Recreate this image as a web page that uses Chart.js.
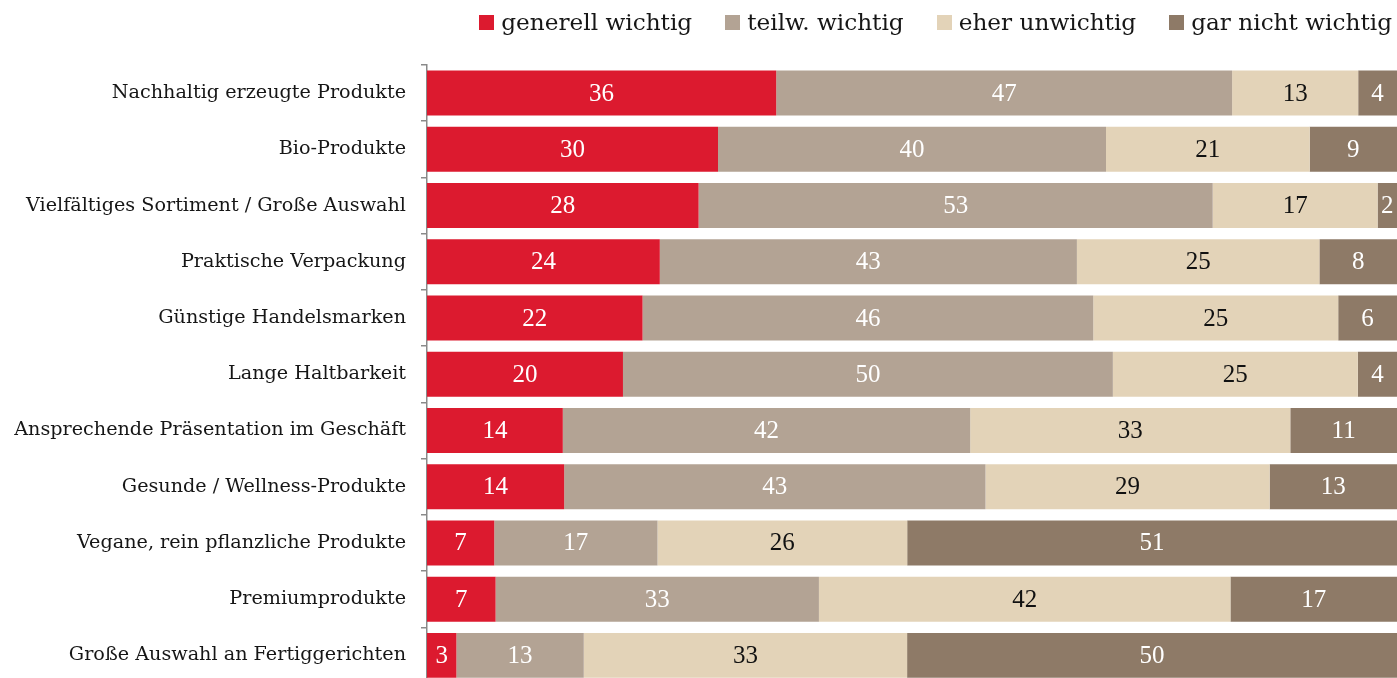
<!DOCTYPE html>
<html>
<head>
<meta charset="utf-8">
<script src="https://cdn.jsdelivr.net/npm/chart.js@4.4.1/dist/chart.umd.min.js"></script>
<style>
  html, body { margin: 0; padding: 0; background: #fff; overflow: hidden; }
  #wrap { position: relative; width: 1397px; height: 710px; }
  #legend {
    position: absolute; top: 9px; right: 5px; height: 26px;
    display: flex; align-items: center;
    font-family: 'DejaVu Serif', serif; font-size: 23.2px; color: #161616;
  }
  #legend .item { display: flex; align-items: center; margin-left: 33px; line-height: 26px; white-space: nowrap; }
  #legend .box { width: 15px; height: 15px; margin-right: 7px; }
</style>
</head>
<body>
<div id="wrap">
  <canvas id="chart"></canvas>
  <div id="legend"></div>
</div>
<script>
const categories = [
    'Nachhaltig erzeugte Produkte',
    'Bio-Produkte',
    'Vielfältiges Sortiment / Große Auswahl',
    'Praktische Verpackung',
    'Günstige Handelsmarken',
    'Lange Haltbarkeit',
    'Ansprechende Präsentation im Geschäft',
    'Gesunde / Wellness-Produkte',
    'Vegane, rein pflanzliche Produkte',
    'Premiumprodukte',
    'Große Auswahl an Fertiggerichten'
];

const generellWichtig = [36, 30, 28, 24, 22, 20, 14, 14, 7, 7, 3];
const teilwWichtig    = [47, 40, 53, 43, 46, 50, 42, 43, 17, 33, 13];
const eherUnwichtig   = [13, 21, 17, 25, 25, 25, 33, 29, 26, 42, 33];
const garNichtWichtig = [4, 9, 2, 8, 6, 4, 11, 13, 51, 17, 50];

const seriesNames  = ['generell wichtig', 'teilw. wichtig', 'eher unwichtig', 'gar nicht wichtig'];
const seriesValues = [generellWichtig, teilwWichtig, eherUnwichtig, garNichtWichtig];
const seriesColors = ['#DC1A2F', '#B3A394', '#E3D3B8', '#8E7A67'];
const labelColors  = ['#ffffff', '#ffffff', '#111111', '#ffffff'];

const LABEL_FONT = "'DejaVu Serif', serif";
const NUM_FONT = "'Liberation Serif', serif";

// each row is drawn as share of its own total (rows sum to 99..101)
const rowTotals = categories.map((c, i) => seriesValues.reduce((s, arr) => s + arr[i], 0));

const datasets = seriesValues.map((vals, k) => ({
    label: seriesNames[k],
    data: vals.map((v, i) => v / rowTotals[i] * 100),
    raw: vals,
    backgroundColor: seriesColors[k],
    borderWidth: 0,
    barPercentage: 0.8,
    categoryPercentage: 1.0
}));

// numbers inside the segments
const segmentLabels = {
    id: 'segmentLabels',
    afterDatasetsDraw(chart) {
        const ctx = chart.ctx;
        ctx.save();
        ctx.font = '25px ' + NUM_FONT;
        ctx.textAlign = 'center';
        ctx.textBaseline = 'middle';
        chart.data.datasets.forEach((ds, k) => {
            const meta = chart.getDatasetMeta(k);
            meta.data.forEach((bar, i) => {
                const p = bar.getProps(['x', 'y', 'base'], true);
                ctx.fillStyle = labelColors[k];
                ctx.fillText(String(ds.raw[i]), (p.x + p.base) / 2, p.y + 1);
            });
        });
        ctx.restore();
    }
};

// legend as html row, top right
const legendEl = document.getElementById('legend');
seriesNames.forEach((name, k) => {
    const item = document.createElement('div');
    item.className = 'item';
    item.innerHTML = '<span class="box" style="background:' + seriesColors[k] + '"></span><span>' + name + '</span>';
    legendEl.appendChild(item);
});

new Chart(document.getElementById('chart'), {
    type: 'bar',
    data: { labels: categories, datasets: datasets },
    options: {
        indexAxis: 'y',
        responsive: true,
        maintainAspectRatio: false,
        animation: false,
        layout: { padding: { top: 65, right: 0, bottom: 0, left: 0 } },
        plugins: {
            legend: { display: false },
            tooltip: { enabled: false }
        },
        scales: {
            x: {
                stacked: true,
                min: 0,
                max: 100,
                display: false
            },
            y: {
                stacked: true,
                afterFit(scale) { scale.width = 427; },
                grid: {
                    drawOnChartArea: false,
                    drawTicks: true,
                    tickLength: 6,
                    color: '#8a8a8a',
                    lineWidth: 1.5
                },
                border: { display: true, color: '#8a8a8a', width: 1.5 },
                ticks: {
                    padding: 15,
                    color: '#161616',
                    font: { family: LABEL_FONT, size: 19.2 }
                }
            }
        }
    },
    plugins: [segmentLabels]
});
</script>
</body>
</html>
